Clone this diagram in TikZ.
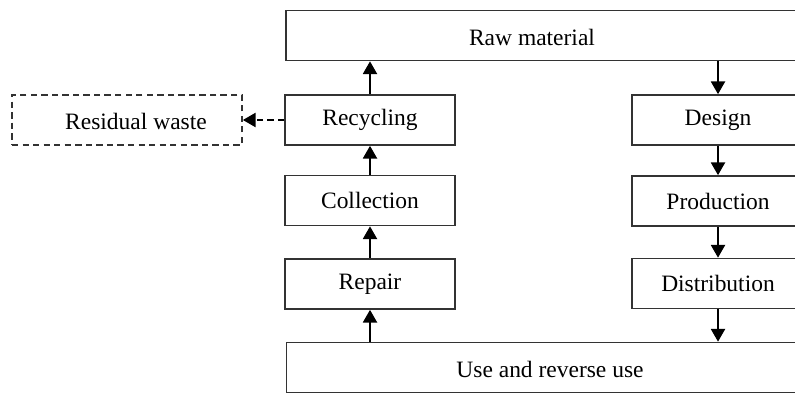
\documentclass[tikz,border=0pt]{standalone}
\usepackage{fontspec}
\setmainfont{Liberation Serif}
\usetikzlibrary{arrows.meta}

\begin{document}
\begin{tikzpicture}[x=0.025cm, y=-0.025cm, font=\fontsize{16.7}{20}\selectfont]
  \tikzset{
    box/.style={draw=black!80, line width=1.2pt, minimum height=1.25cm, inner sep=0pt},
    leftbox/.style={box, minimum width=4.25cm},
    rightbox/.style={box, minimum width=4.3cm},
    widebox/.style={box, minimum width=12.95cm},
    dashbox/.style={box, dash pattern=on 4.5pt off 3pt, minimum width=5.75cm},
    flow/.style={-{Triangle[length=9pt,width=10pt]}, line width=1.2pt},
    dashflow/.style={flow, dash pattern=on 4.5pt off 3pt}
  }
  \useasboundingbox (0,0) rectangle (795,394);
  \clip (0,0) rectangle (795,394);

  \node[widebox] (raw) at (545,35.5) {};
  \node (raw-text) at (532,37) {Raw material};
  \node[widebox] (use) at (545.5,367.5) {};
  \node (use-text) at (550,369) {Use and reverse use};

  \node[leftbox] (recycling) at (370,120) {Recycling};
  \node[leftbox] (collection) at (370,200.5) {Collection};
  \node[leftbox] (repair) at (370,284) {Repair};

  \node[rightbox] (design) at (718,120) {Design};
  \node[rightbox] (production) at (718,201) {Production};
  \node[rightbox] (distribution) at (718,283.5) {Distribution};

  \node[dashbox] (residual) at (127,120) {};
  \node (residual-text) at (136,121) {Residual waste};

  % closing the loop on the left
  \draw[flow] (use.north -| repair.south) -- (repair.south);
  \draw[flow] (repair.north) -- (collection.south);
  \draw[flow] (collection.north) -- (recycling.south);
  \draw[flow] (recycling.north) -- (recycling.north |- raw.south);
  \draw[dashflow] (recycling.west) -- (residual.east);

  % down the right
  \draw[flow] (raw.south -| design.north) -- (design.north);
  \draw[flow] (design.south) -- (production.north);
  \draw[flow] (production.south) -- (distribution.north);
  \draw[flow] (distribution.south) -- (distribution.south |- use.north);
\end{tikzpicture}
\end{document}
